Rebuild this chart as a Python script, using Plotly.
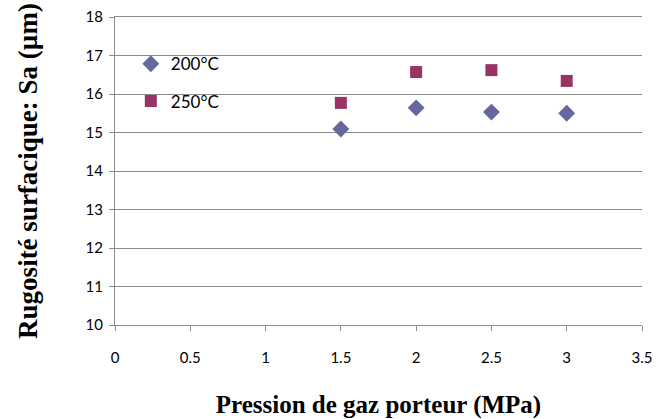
import plotly.graph_objects as go

pression = [1.5, 2.0, 2.5, 3.0]
sa_200 = [15.09, 15.64, 15.53, 15.50]
sa_250 = [15.77, 16.57, 16.62, 16.34]
series_names = ["200°C", "250°C"]

fig = go.Figure()
fig.add_trace(go.Scatter(x=pression, y=sa_200, mode="markers", name=series_names[0],
                         legendgroup="g1",
                         marker=dict(symbol="diamond", size=13, color="#67669F")))
fig.add_trace(go.Scatter(x=pression, y=sa_250, mode="markers", name=series_names[1],
                         legendgroup="g2",
                         marker=dict(symbol="square", size=12, color="#993366")))

fig.update_layout(
    width=657, height=419,
    margin=dict(l=115, r=15, t=17, b=94),
    paper_bgcolor="white", plot_bgcolor="white",
    font=dict(family="Lato, Open Sans, sans-serif", size=15, color="black"),
    legend=dict(x=0.03, y=0.905, xanchor="left", yanchor="top",
                bgcolor="rgba(0,0,0,0)", tracegroupgap=12,
                font=dict(size=17), itemwidth=30),
    showlegend=True,
)
fig.update_xaxes(range=[0, 3.5], dtick=0.5, tick0=0, showgrid=False, zeroline=False,
                 showline=True, mirror=True, linecolor="#8c8c8c", linewidth=1, automargin=False,
                 ticks="outside", ticklen=5, tickcolor="#8c8c8c",
                 ticklabelstandoff=14,
                 title=dict(text="<b>Pression de gaz porteur (MPa)</b>", standoff=30,
                            font=dict(family="Liberation Serif, serif", size=25, color="black")))
fig.update_yaxes(range=[10, 18], dtick=1,
                 showgrid=True, gridcolor="#8c8c8c", gridwidth=1,
                 zeroline=False, showline=True, linecolor="#8c8c8c", linewidth=1, automargin=False,
                 ticks="outside", ticklen=5, tickcolor="#8c8c8c",
                 ticklabelstandoff=3,
                 title=dict(text="<b>Rugosité surfacique: Sa (µm)</b>", standoff=40,
                            font=dict(family="Liberation Serif, serif", size=27, color="black")))
fig.write_html("out.html", config={"displayModeBar": False},
               post_script="document.body.style.margin='0';")
